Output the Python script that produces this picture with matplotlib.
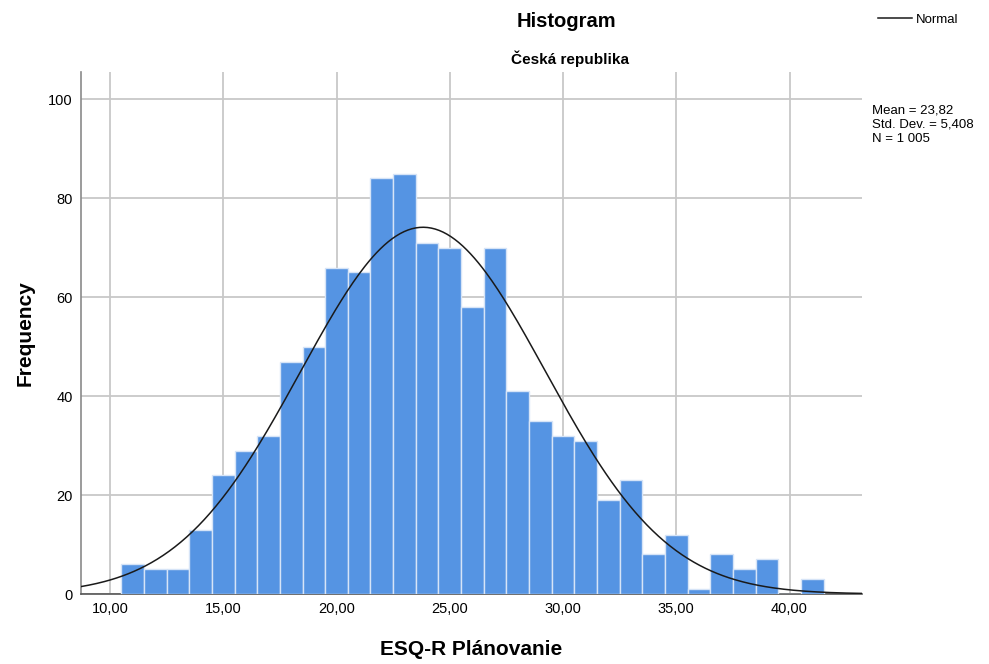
import numpy as np
import matplotlib.pyplot as plt

plt.rcParams['font.family'] = ['Liberation Sans', 'DejaVu Sans']

# bin centres (width 1) and counts
centers = list(range(11, 42))
counts = [6, 5, 5, 13, 24, 29, 32, 47, 50, 66, 65, 84, 85, 71, 70, 58, 70,
          41, 35, 32, 31, 19, 23, 8, 12, 1, 8, 5, 7, 0, 3]
mean = 23.82
sd = 5.408
n = 1005
xticks = [10, 15, 20, 25, 30, 35, 40]
yticks = [0, 20, 40, 60, 80, 100]

fig = plt.figure(figsize=(9.89, 6.64), dpi=100)
ax = fig.add_axes([0.0819, 0.1054, 0.7897, 0.786])

ax.bar(centers, counts, width=1.0, color='#5594e3', edgecolor='#d6e4f7',
       linewidth=1.0, zorder=3)

xs = np.linspace(8.72, 43.2, 400)
ys = n * 1.0 / (sd * np.sqrt(2 * np.pi)) * np.exp(-0.5 * ((xs - mean) / sd) ** 2)
ax.plot(xs, ys, color='#1a1a1a', linewidth=1.1, zorder=4, label='Normal')

ax.set_xlim(8.72, 43.2)
ax.set_ylim(0, 105.5)
ax.set_xticks(xticks)
ax.set_xticklabels(['%d,00' % t for t in xticks], fontsize=10.5)
ax.set_yticks(yticks)
ax.set_yticklabels([str(t) for t in yticks], fontsize=10.5)
ax.tick_params(length=0, pad=6)
ax.grid(True, color='#c8c8c8', linewidth=1.3, zorder=0)
for s in ['top', 'right']:
    ax.spines[s].set_visible(False)
ax.spines['left'].set_color('#8a8a8a')
ax.spines['bottom'].set_color('#555555')
ax.spines['left'].set_linewidth(1.2)
ax.spines['bottom'].set_linewidth(1.2)

ax.set_xlabel('ESQ-R Plánovanie', fontsize=15, fontweight='bold', labelpad=17)
ax.set_ylabel('Frequency', fontsize=15, fontweight='bold', labelpad=10)

fig.text(0.573, 0.968, 'Histogram', ha='center', va='center', fontsize=14.5,
         fontweight='bold')
fig.text(0.576, 0.912, 'Česká republika', ha='center', va='center',
         fontsize=11, fontweight='bold')

ax.legend(loc='upper left', bbox_to_anchor=(1.005, 1.135), frameon=False,
          fontsize=9.5, handlelength=2.6, handletextpad=0.3)

fig.text(0.882, 0.843, 'Mean = 23,82\nStd. Dev. = 5,408\nN = 1 005',
         ha='left', va='top', fontsize=9.5, linespacing=1.25)

plt.savefig('out.png')
